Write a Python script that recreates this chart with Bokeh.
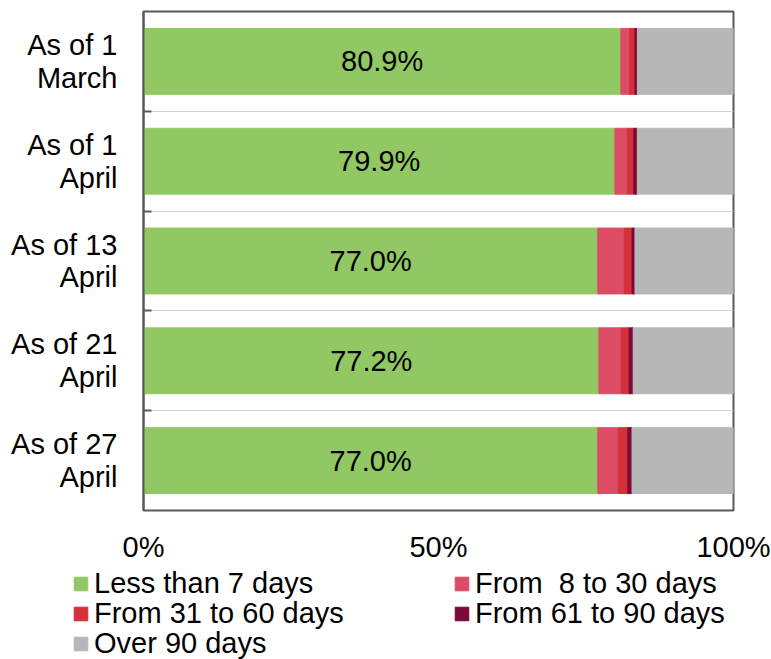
from bokeh.plotting import figure
from bokeh.layouts import column
from bokeh.models import (ColumnDataSource, FixedTicker, Range1d, Legend, LegendItem,
                          PrintfTickFormatter)
from bokeh.core.properties import value
from bokeh.embed import file_html
from bokeh.resources import INLINE

# Share of items by age band, per reporting date (percent of total)
categories = ["As of 1\nMarch", "As of 1\nApril", "As of 13\nApril",
              "As of 21\nApril", "As of 27\nApril"]
less_7 = [80.9, 79.9, 77.0, 77.2, 77.0]
from_8_30 = [1.5, 2.1, 4.5, 3.8, 3.5]
from_31_60 = [0.9, 1.1, 1.3, 1.3, 1.6]
from_61_90 = [0.4, 0.6, 0.5, 0.7, 0.7]
over_90 = [16.3, 16.3, 16.7, 17.0, 17.2]

series_labels = ["Less than 7 days", "From  8 to 30 days", "From 31 to 60 days",
                 "From 61 to 90 days", "Over 90 days"]
x_ticks = [0, 50, 100]

colors = ["#92c864", "#dc4c64", "#d4303a", "#7c0a36", "#b7b7b7"]
FONT = "Liberation Sans"
SIZE = "29px"
DARK = "#595959"
W = 771
MAIN_H = 565
LEGEND_H = 94

positions = list(range(len(categories)))
keys = ["less_7", "from_8_30", "from_31_60", "from_61_90", "over_90"]
source = ColumnDataSource(dict(
    y=positions, less_7=less_7, from_8_30=from_8_30, from_31_60=from_31_60,
    from_61_90=from_61_90, over_90=over_90,
    label_x=[v / 2 for v in less_7],
    label=[f"{v:.1f}%" for v in less_7],
))

p = figure(width=W, height=MAIN_H, output_backend="svg", toolbar_location=None,
           x_range=Range1d(0, 100), y_range=Range1d(len(categories) - 0.5, -0.5),
           min_border_left=143, min_border_right=38, min_border_top=11,
           min_border_bottom=54)
p.frame_align = False
p.background_fill_color = "white"
p.border_fill_color = "white"
p.outline_line_color = DARK
p.outline_line_width = 2

p.hbar_stack(keys, y="y", height=0.66, color=colors, source=source)

p.text(x="label_x", y="y", text="label", source=source, text_align="center",
       text_baseline="middle", text_font=value(FONT), text_font_size=SIZE,
       text_color="black")

# y axis: category labels, minor ticks between bands
yticker = FixedTicker(ticks=positions,
                      minor_ticks=[i + 0.5 for i in positions[:-1]])
p.yaxis.ticker = yticker
p.ygrid.ticker = yticker
p.yaxis.major_label_overrides = {i: c for i, c in zip(positions, categories)}
p.yaxis.major_tick_in = 0
p.yaxis.major_tick_out = 0
p.yaxis.minor_tick_in = 8
p.yaxis.minor_tick_out = 0
p.yaxis.minor_tick_line_color = DARK
p.yaxis.minor_tick_line_width = 2
p.yaxis.axis_line_color = DARK
p.yaxis.axis_line_width = 2
p.yaxis.major_label_standoff = 26
p.yaxis.major_label_text_font = FONT
p.yaxis.major_label_text_font_size = SIZE
p.yaxis.major_label_text_color = "black"
p.yaxis.major_label_text_line_height = 1.03
p.ygrid.grid_line_color = None
p.ygrid.minor_grid_line_color = "#d0d4d8"
p.ygrid.minor_grid_line_width = 1

# x axis: percent scale
p.xaxis.ticker = FixedTicker(ticks=x_ticks, minor_ticks=[])
p.xaxis.formatter = PrintfTickFormatter(format="%d%%")
p.xaxis.major_tick_in = 0
p.xaxis.major_tick_out = 0
p.xaxis.axis_line_color = None
p.xaxis.major_label_standoff = 20
p.xaxis.major_label_text_font = FONT
p.xaxis.major_label_text_font_size = SIZE
p.xaxis.major_label_text_color = "black"
p.xgrid.grid_line_color = None

# legend strip below the chart; its bars sit outside the strip's visible range
leg = figure(width=W, height=LEGEND_H, output_backend="svg", toolbar_location=None,
             x_axis_type=None, y_axis_type=None,
             x_range=Range1d(0, 100), y_range=Range1d(100, 101),
             min_border_left=0, min_border_right=0, min_border_top=0,
             min_border_bottom=0)
leg.frame_align = False
leg.outline_line_color = None
leg.grid.grid_line_color = None
leg_renderers = leg.hbar_stack(keys, y="y", height=0.66, color=colors, source=source)

items = [LegendItem(label=lab, renderers=[r])
         for lab, r in zip(series_labels, leg_renderers)]

# two entries per row, one legend row at a time (offsets from the strip bottom)
row_offsets = [59, 29, -1]
for row, y_off in enumerate(row_offsets):
    leg.add_layout(Legend(
        items=items[2 * row: 2 * row + 2],
        orientation="horizontal", ncols=2, location=(72, y_off),
        padding=0, margin=0, spacing=0,
        glyph_width=17, glyph_height=17, label_standoff=5, label_width=359,
        label_text_font=FONT, label_text_font_size=SIZE, label_text_color="black",
        background_fill_alpha=0, border_line_color=None,
    ))

layout = column(p, leg, spacing=0)
open("out.html", "w").write(file_html(layout, INLINE))
